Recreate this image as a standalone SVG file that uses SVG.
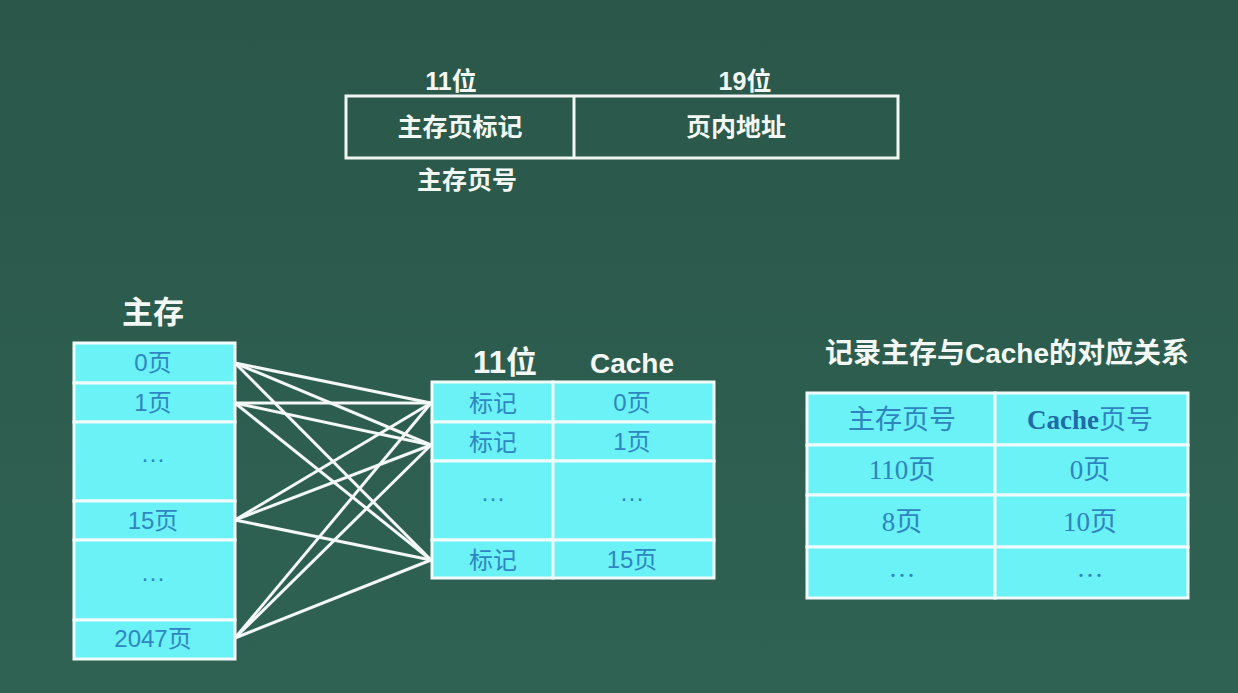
<svg xmlns="http://www.w3.org/2000/svg" width="1238" height="693" viewBox="0 0 1238 693">
<defs>
<linearGradient id="bg" x1="0" y1="0" x2="0" y2="1">
<stop offset="0" stop-color="#2a5749"/>
<stop offset="1" stop-color="#2f6253"/>
</linearGradient>
</defs>
<style>
.hd{font-family:"Liberation Sans","Noto Sans CJK SC",sans-serif;font-weight:bold;fill:#f4f8f4;text-anchor:middle}
.cell{fill:#6af2f6;stroke:#f2fbfb;stroke-width:3}
.ct{font-family:"Liberation Sans","Noto Sans CJK SC",sans-serif;font-size:24px;fill:#2f86c2;text-anchor:middle}
.st{font-family:"Liberation Serif","Noto Sans CJK SC",serif;font-size:27px;fill:#2f84c0;text-anchor:middle}
.box{fill:none;stroke:#f2f6f2;stroke-width:3}
.conn line{stroke:#f4f8f6;stroke-width:3}
</style>
<rect width="1238" height="693" fill="url(#bg)"/>

<g id="address-format">
<rect class="box" x="346" y="96" width="552" height="62"/>
<line class="box" x1="574" y1="96" x2="574" y2="158"/>
<text class="hd" x="451" y="90" font-size="25">11位</text>
<text class="hd" x="745" y="90" font-size="25">19位</text>
<text class="hd" x="460" y="136" font-size="25">主存页标记</text>
<text class="hd" x="736" y="136" font-size="25">页内地址</text>
<text class="hd" x="467" y="189" font-size="25">主存页号</text>
</g>

<g id="main-memory">
<text class="hd" x="153" y="323" font-size="31">主存</text>
<rect class="cell" x="74" y="343" width="161" height="40"/>
<rect class="cell" x="74" y="383" width="161" height="39"/>
<rect class="cell" x="74" y="422" width="161" height="79"/>
<rect class="cell" x="74" y="501" width="161" height="39"/>
<rect class="cell" x="74" y="540" width="161" height="80"/>
<rect class="cell" x="74" y="620" width="161" height="39"/>
<text class="ct" x="153" y="371">0页</text>
<text class="ct" x="153" y="411">1页</text>
<text class="ct" x="153" y="467">···</text>
<text class="ct" x="153" y="529">15页</text>
<text class="ct" x="153" y="586">···</text>
<text class="ct" x="153" y="647">2047页</text>
</g>

<g id="cache">
<text class="hd" x="505" y="373" font-size="31">11位</text>
<text class="hd" x="632" y="373" font-size="28">Cache</text>
<rect class="cell" x="432" y="382" width="121" height="40"/>
<rect class="cell" x="553" y="382" width="161" height="40"/>
<rect class="cell" x="432" y="422" width="121" height="39"/>
<rect class="cell" x="553" y="422" width="161" height="39"/>
<rect class="cell" x="432" y="461" width="121" height="79"/>
<rect class="cell" x="553" y="461" width="161" height="79"/>
<rect class="cell" x="432" y="540" width="121" height="38"/>
<rect class="cell" x="553" y="540" width="161" height="38"/>
<text class="ct" x="493" y="412" font-size="26">标记</text>
<text class="ct" x="632" y="411">0页</text>
<text class="ct" x="493" y="451" font-size="26">标记</text>
<text class="ct" x="632" y="450">1页</text>
<text class="ct" x="493" y="506">···</text>
<text class="ct" x="632" y="506">···</text>
<text class="ct" x="493" y="569" font-size="26">标记</text>
<text class="ct" x="632" y="568">15页</text>
</g>

<g id="mapping-table">
<text class="hd" x="1007" y="363" font-size="28">记录主存与Cache的对应关系</text>
<rect class="cell" x="807" y="393" width="188" height="52"/>
<rect class="cell" x="995" y="393" width="193" height="52"/>
<rect class="cell" x="807" y="445" width="188" height="50"/>
<rect class="cell" x="995" y="445" width="193" height="50"/>
<rect class="cell" x="807" y="495" width="188" height="52"/>
<rect class="cell" x="995" y="495" width="193" height="52"/>
<rect class="cell" x="807" y="547" width="188" height="51"/>
<rect class="cell" x="995" y="547" width="193" height="51"/>
<text class="st" x="902" y="429">主存页号</text>
<text class="st" x="1090" y="429"><tspan font-weight="bold" fill="#1f6aa8">Cache</tspan>页号</text>
<text class="st" x="902" y="479">110页</text>
<text class="st" x="1090" y="479">0页</text>
<text class="st" x="902" y="531">8页</text>
<text class="st" x="1090" y="531">10页</text>
<text class="st" x="902" y="585">···</text>
<text class="st" x="1090" y="585">···</text>
</g>

<g id="connectors" class="conn">
<line x1="235" y1="363" x2="431" y2="403"/>
<line x1="235" y1="363" x2="431" y2="445"/>
<line x1="235" y1="363" x2="431" y2="560"/>
<line x1="235" y1="403" x2="431" y2="403"/>
<line x1="235" y1="403" x2="431" y2="445"/>
<line x1="235" y1="403" x2="431" y2="560"/>
<line x1="235" y1="520" x2="431" y2="403"/>
<line x1="235" y1="520" x2="431" y2="445"/>
<line x1="235" y1="520" x2="431" y2="560"/>
<line x1="235" y1="638" x2="431" y2="403"/>
<line x1="235" y1="638" x2="431" y2="445"/>
<line x1="235" y1="638" x2="431" y2="560"/>
</g>
</svg>
